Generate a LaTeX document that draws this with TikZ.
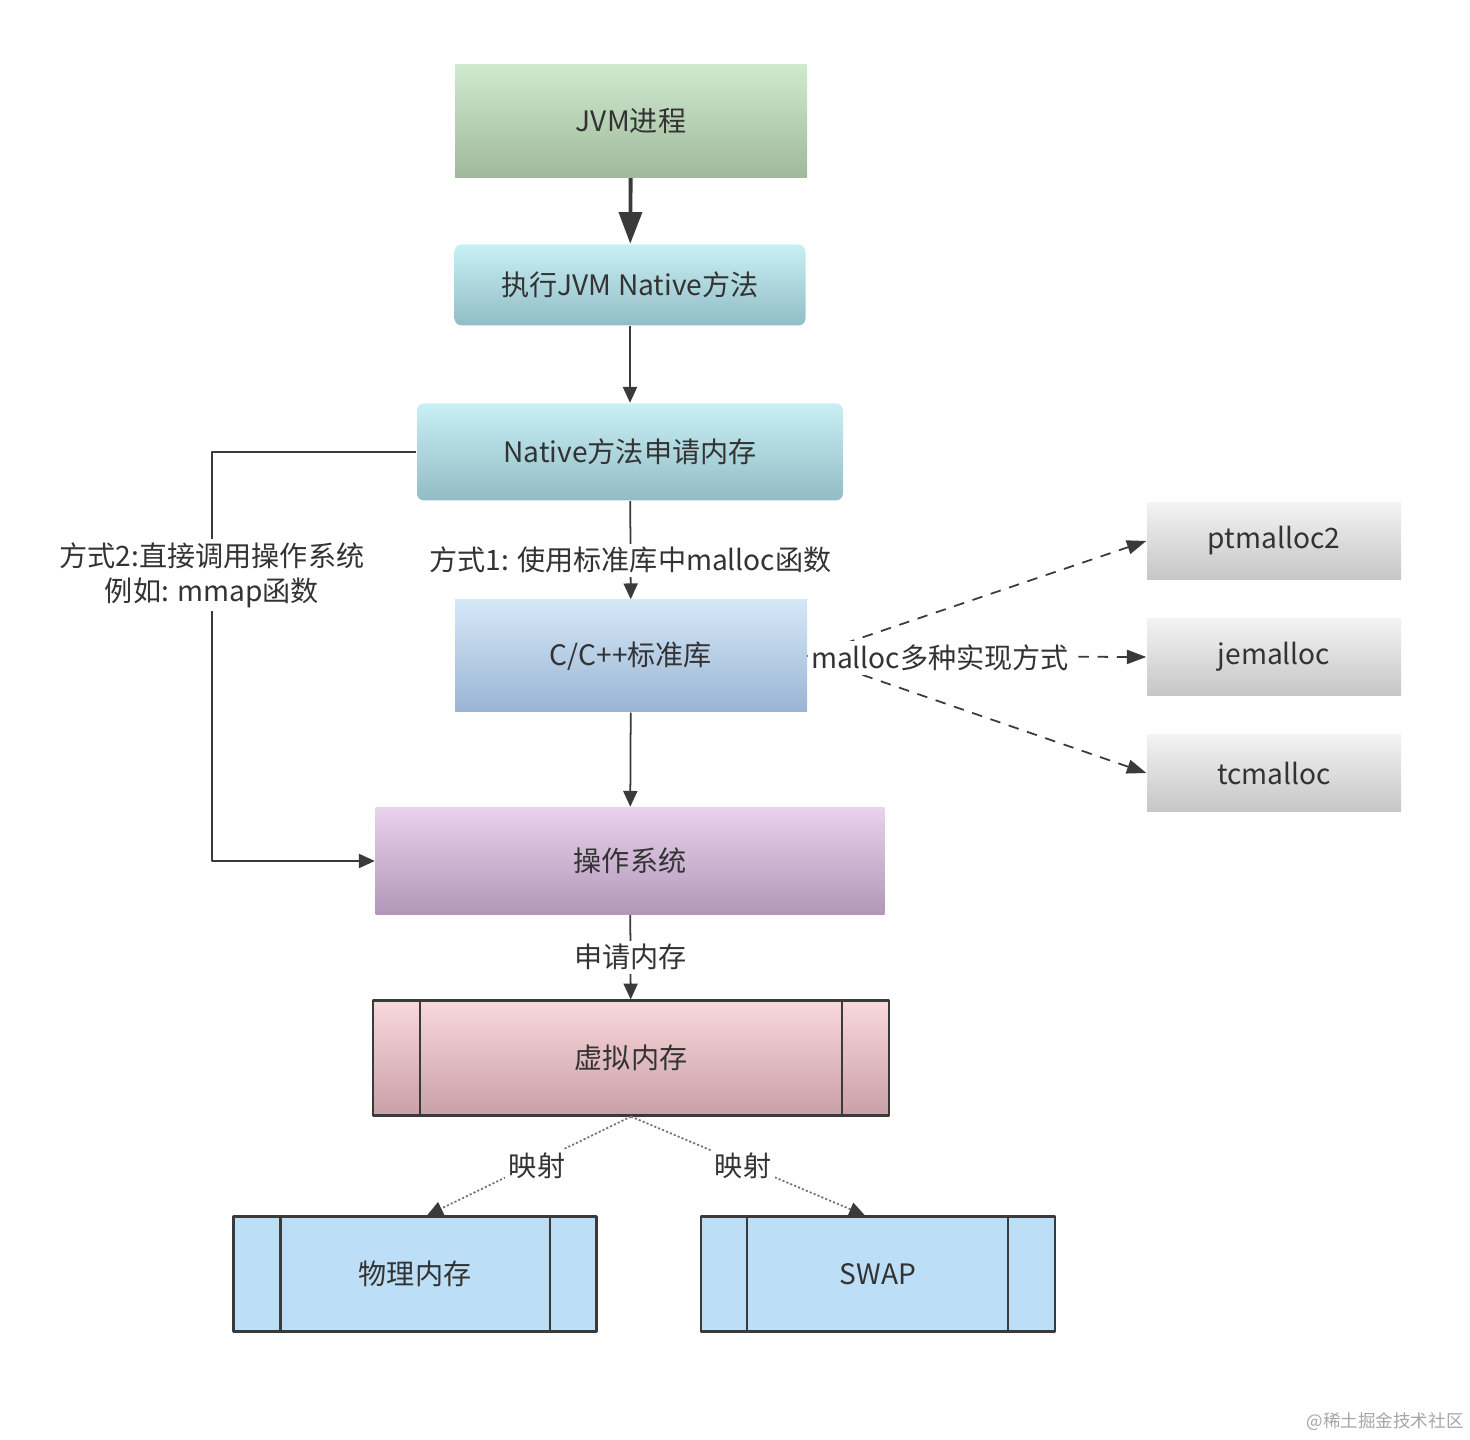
\documentclass[tikz,border=0pt]{standalone}
\usepackage{fontspec}
\newfontfamily\cjk{Noto Sans CJK SC}
\usetikzlibrary{arrows.meta}
\definecolor{txt}{HTML}{333333}
\definecolor{edge}{HTML}{3A3A3A}
\tikzset{
	box/.style={inner sep=0pt, text=txt},
	jvmbox/.style={box, minimum width=3.52cm, minimum height=1.13cm, top color=green!12!white!92!black, bottom color={rgb,255:red,160;green,184;blue,156}},
	cyanbox/.style={box, rounded corners=2pt, top color={rgb,255:red,200;green,240;blue,244}, bottom color={rgb,255:red,146;green,188;blue,198}},
	libbox/.style={box, minimum width=3.52cm, minimum height=1.12cm, top color={rgb,255:red,212;green,232;blue,247}, bottom color={rgb,255:red,155;green,180;blue,212}},
	osbox/.style={box, minimum width=5.09cm, minimum height=1.07cm, top color={rgb,255:red,232;green,210;blue,236}, bottom color={rgb,255:red,178;green,151;blue,184}},
	vmbox/.style={box, draw=edge, line width=0.6pt, minimum width=5.16cm, minimum height=1.15cm, top color={rgb,255:red,249;green,216;blue,220}, bottom color={rgb,255:red,201;green,160;blue,168}},
	phbox/.style={box, draw=edge, line width=0.6pt, minimum height=1.15cm, fill={rgb,255:red,188;green,223;blue,247}},
	graybox/.style={box, minimum width=2.54cm, minimum height=0.77cm, top color={rgb,255:red,243;green,243;blue,243}, bottom color={rgb,255:red,198;green,198;blue,198}},
	lbl/.style={fill=white, inner sep=1pt, text=txt},
	link/.style={draw=edge, line width=0.5pt, -{Triangle[length=4.5pt,width=4pt]}},
	dlink/.style={draw=edge, line width=0.5pt, dash pattern=on 3pt off 2.5pt, -{Triangle[length=5.5pt,width=4pt]}},
	mlink/.style={draw=black!55, line width=0.5pt, dash pattern=on 0.6pt off 0.6pt, -{Triangle[length=4.5pt,width=4pt,color=edge]}},
}
\begin{document}
\begin{tikzpicture}[x=0.1mm, y=-0.1mm, font=\cjk\fontsize{8}{10}\selectfont, line join=round]
	\useasboundingbox (0,0) rectangle (1470,1440);
	% Các khối chính
	\node[jvmbox] (jvm) at (631,121) {JVM进程};
	\node[cyanbox, minimum width=3.51cm, minimum height=0.81cm] (exec) at (630,285) {执行JVM Native方法};
	\node[cyanbox, minimum width=4.26cm, minimum height=0.97cm] (native) at (630,452) {Native方法申请内存};
	\node[libbox] (lib) at (631,656) {C/C++标准库};
	\node[osbox] (os) at (630,861) {操作系统};
	\node[vmbox] (vm) at (631,1058) {虚拟内存};
	\node[phbox, minimum width=3.63cm] (phys) at (415,1274) {物理内存};
	\node[phbox, minimum width=3.54cm] (swap) at (878,1274) {SWAP};
	\draw[edge, line width=0.6pt] ([xshift=0.48cm]vm.north west) -- ([xshift=0.48cm]vm.south west)
		([xshift=-0.48cm]vm.north east) -- ([xshift=-0.48cm]vm.south east);
	\draw[edge, line width=0.6pt] ([xshift=0.48cm]phys.north west) -- ([xshift=0.48cm]phys.south west)
		([xshift=-0.48cm]phys.north east) -- ([xshift=-0.48cm]phys.south east);
	\draw[edge, line width=0.6pt] ([xshift=0.47cm]swap.north west) -- ([xshift=0.47cm]swap.south west)
		([xshift=-0.48cm]swap.north east) -- ([xshift=-0.48cm]swap.south east);
	% Các cách cài đặt malloc
	\node[graybox] (pt) at (1274,541) {ptmalloc2};
	\node[graybox] (je) at (1274,657) {jemalloc};
	\node[graybox] (tc) at (1274,773) {tcmalloc};
	% Mũi tên
	\draw[draw=edge, line width=1.1pt, -{Triangle[length=9pt,width=6.5pt]}] (jvm) -- (exec);
	\draw[link] (exec) -- (native);
	\draw[link] (native) -- (lib) node[lbl, midway, yshift=-1mm] (way1) {方式1: 使用标准库中malloc函数};
	\draw[link] (lib) -- (os);
	\draw[link] (os) -- (vm) node[lbl, midway] (ask) {申请内存};
	\coordinate (bend) at (212,452);
	\draw[link] (native.west) -- (bend) |- (os.west);
	\node[lbl, align=center] (way2) at (212,575) {方式2:直接调用操作系统\\例如: mmap函数};
	\draw[dlink] (lib.east) -- (pt.west);
	\draw[dlink] (lib.east) -- (je.west);
	\draw[dlink] (lib.east) -- (tc.west);
	\node[lbl] (impl) at (940,658) {malloc多种实现方式};
	\draw[mlink] (vm.south) -- ([xshift=0.12cm]phys.north) node[lbl, midway, xshift=0.8mm] (map1) {映射};
	\draw[mlink] (vm.south) -- ([xshift=-0.13cm]swap.north) node[lbl, midway, xshift=-0.5mm] (map2) {映射};
	% Chữ mờ
	\node[text=black!35, font=\cjk\fontsize{5}{6}\selectfont] (mark) at (1385,1422) {@稀土掘金技术社区};
\end{tikzpicture}
\end{document}
